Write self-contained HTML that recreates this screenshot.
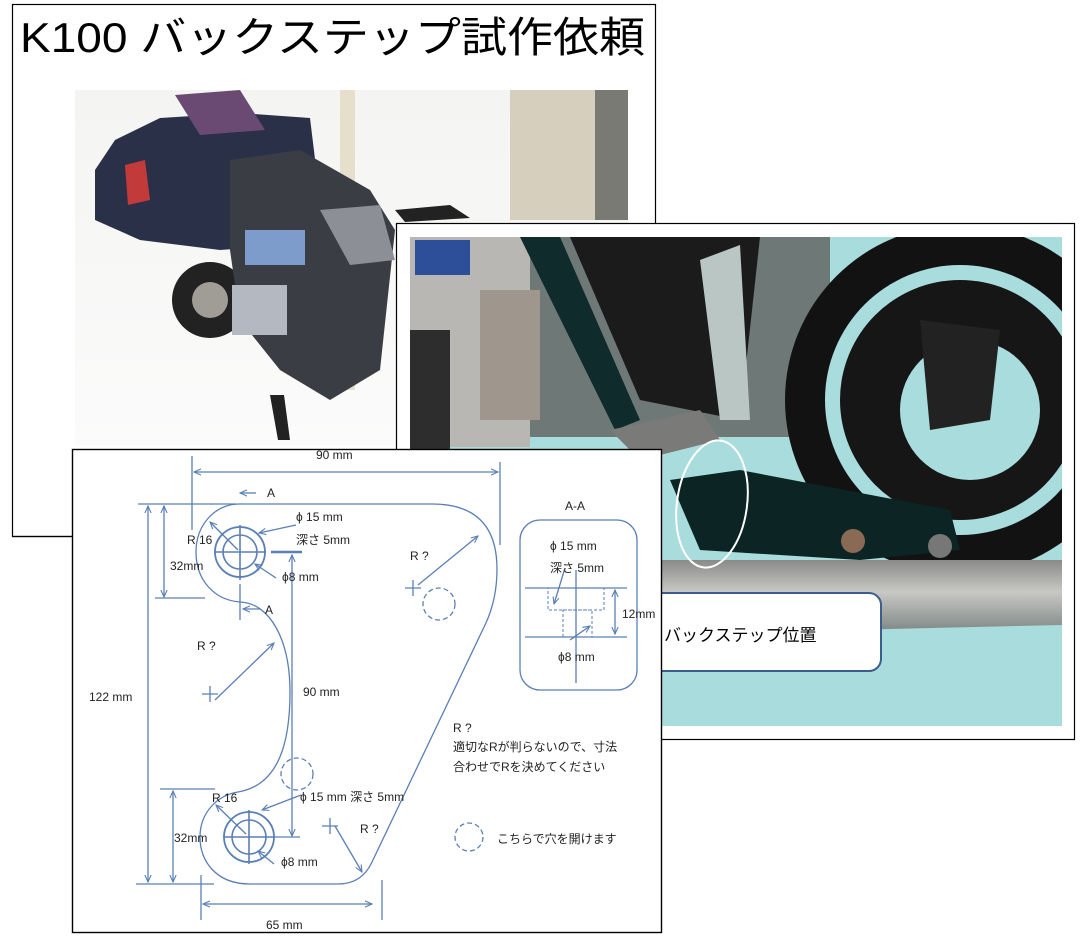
<!DOCTYPE html>
<html><head><meta charset="utf-8"><style>
html,body{margin:0;padding:0;background:#fff;width:1090px;height:944px;overflow:hidden}
svg{display:block}
text{font-family:"Liberation Sans","Noto Sans CJK JP",sans-serif;fill:#222}
</style></head><body>
<svg width="1090" height="944" viewBox="0 0 1090 944" xmlns="http://www.w3.org/2000/svg">
<defs>
<linearGradient id="g1" x1="0" y1="0" x2="0" y2="1"><stop offset="0" stop-color="#f4f4f2"/><stop offset="1" stop-color="#fbfbfb"/></linearGradient>
<linearGradient id="ex" x1="0" y1="0" x2="0" y2="1"><stop offset="0" stop-color="#8a8a88"/><stop offset="0.4" stop-color="#c8c8c4"/><stop offset="1" stop-color="#6f7a78"/></linearGradient>
<clipPath id="c1"><rect x="75" y="90" width="553" height="355"/></clipPath>
<clipPath id="c2"><rect x="410" y="237" width="652" height="489"/></clipPath>
<marker id="ar" viewBox="0 0 10 10" refX="9" refY="5" markerWidth="6" markerHeight="6" orient="auto-start-reverse"><path d="M0,1 L9,5 L0,9" fill="none" stroke="#5a7fb5" stroke-width="1.4"/></marker>
</defs>

<!-- Slide 1 -->
<rect x="12.5" y="4.5" width="643" height="532" fill="#fff" stroke="#000" stroke-width="1.2"/>
<text x="20" y="52" font-size="42" textLength="625" lengthAdjust="spacingAndGlyphs" style="fill:#000">K100 バックステップ試作依頼</text>
<g clip-path="url(#c1)">
<rect x="75" y="90" width="553" height="355" fill="url(#g1)"/>
<rect x="340" y="90" width="15" height="300" fill="#e6dfcc"/>
<rect x="510" y="90" width="85" height="130" fill="#d7cfbd"/>
<rect x="595" y="90" width="33" height="130" fill="#7a7a74"/>
<path d="M95,170 L115,140 L160,118 L240,113 L310,118 L320,200 L290,245 L220,250 L140,240 L95,220 Z" fill="#2a3048"/>
<path d="M125,165 L145,160 L150,200 L128,205 Z" fill="#c23a3a"/>
<path d="M175,95 L240,90 L265,130 L200,135 Z" fill="#6a4a72"/>
<circle cx="210" cy="300" r="38" fill="#222"/>
<circle cx="210" cy="300" r="18" fill="#a09c96"/>
<path d="M230,160 L300,150 L370,190 L395,230 L380,370 L330,400 L280,370 L240,320 L230,250 Z" fill="#3a3d44"/>
<rect x="245" y="230" width="60" height="35" fill="#7d9ccc"/>
<rect x="232" y="285" width="55" height="50" fill="#b4b8c0"/>
<path d="M320,210 L380,205 L395,260 L350,265 Z" fill="#8c8f96"/>
<path d="M270,395 L278,440 L290,440 L284,395 Z" fill="#222"/>
<path d="M395,210 L450,205 L470,218 L405,222 Z" fill="#222"/>
</g>

<!-- Slide 2 -->
<rect x="396.5" y="223.5" width="678" height="516" fill="#fff" stroke="#000" stroke-width="1.2"/>
<g clip-path="url(#c2)">
<rect x="410" y="237" width="652" height="489" fill="#a9dcdc"/>
<rect x="410" y="237" width="420" height="200" fill="#6e7876"/>
<rect x="410" y="237" width="120" height="210" fill="#b9b7b3"/>
<rect x="415" y="240" width="55" height="35" fill="#2d4f9a"/>
<rect x="480" y="290" width="60" height="130" fill="#9f978e"/>
<rect x="410" y="330" width="40" height="120" fill="#2d2d2d"/>
<path d="M520,237 L560,237 L640,420 L615,430 Z" fill="#0f2b2b"/>
<path d="M570,237 L760,237 L740,420 L640,400 Z" fill="#1b1b1b"/>
<path d="M700,260 L740,245 L750,420 L720,420 Z" fill="#b9c6c4"/>
<circle cx="960" cy="400" r="175" fill="#121212"/>
<circle cx="960" cy="400" r="135" fill="#a9dcdc"/>
<circle cx="960" cy="400" r="120" fill="#161616"/>
<circle cx="970" cy="410" r="70" fill="#a9dcdc"/>
<path d="M920,320 L1000,330 L990,420 L930,430 Z" fill="#222"/>
<path d="M410,560 L1062,560 L1062,625 L410,640 Z" fill="url(#ex)"/>
<path d="M670,480 L740,470 L950,510 L960,550 L860,560 L700,550 Z" fill="#0c2424"/>
<circle cx="853" cy="541" r="12" fill="#8a6a55"/>
<circle cx="940" cy="546" r="12" fill="#777"/>
<path d="M610,430 L700,410 L720,440 L640,460 Z" fill="#7a7a78"/>
<ellipse cx="712" cy="504" rx="35" ry="64" fill="none" stroke="#fff" stroke-width="2" transform="rotate(8 712 504)"/>
</g>
<rect x="600" y="593" width="281" height="78" rx="12" fill="#fff" stroke="#3b5d8f" stroke-width="2"/>
<text x="664" y="641" font-size="17" style="fill:#000">バックステップ位置</text>

<!-- Slide 3 -->
<rect x="72.5" y="449.5" width="589" height="483" fill="#fff" stroke="#000" stroke-width="1.4"/>
<g fill="none" stroke="#5a7fb5" stroke-width="1.3">
<path d="M239,504 L432,504 Q497,504 497,569 Q497,600 485,625 L372,862 Q362,884 338,884 L250,884 C215,884 200,860 200,837 C200,812 218,795 238,792 C280,785 290,740 290,692 C290,640 270,603 240,602 C214,600 196,580 196,552 C196,525 215,504 239,504 Z"/>
<circle cx="240" cy="552" r="25" stroke-width="1.8"/><circle cx="240" cy="552" r="17" stroke-width="1.6"/>
<line x1="214" y1="552" x2="266" y2="552" stroke-width="1.6"/><line x1="240" y1="525" x2="240" y2="580" stroke-width="1.6"/>
<circle cx="249" cy="837" r="25" stroke-width="1.8"/><circle cx="249" cy="837" r="17" stroke-width="1.6"/>
<line x1="223" y1="837" x2="275" y2="837" stroke-width="1.6"/><line x1="249" y1="810" x2="249" y2="864" stroke-width="1.6"/>
<circle cx="439" cy="604" r="16" stroke-dasharray="5,3"/>
<circle cx="297" cy="774" r="16" stroke-dasharray="5,3"/>
<circle cx="469" cy="837" r="14" stroke-dasharray="5,3"/>
<line x1="192" y1="456" x2="192" y2="530"/>
<line x1="500" y1="462" x2="500" y2="545"/>
<line x1="194" y1="472" x2="498" y2="472" marker-start="url(#ar)" marker-end="url(#ar)"/>
<line x1="138" y1="504" x2="236" y2="504"/>
<line x1="148" y1="506" x2="148" y2="882" marker-start="url(#ar)" marker-end="url(#ar)"/>
<line x1="164" y1="506" x2="164" y2="597" marker-start="url(#ar)" marker-end="url(#ar)"/>
<line x1="155" y1="598" x2="205" y2="598"/>
<line x1="160" y1="789" x2="215" y2="789"/>
<line x1="173" y1="791" x2="173" y2="882" marker-start="url(#ar)" marker-end="url(#ar)"/>
<line x1="136" y1="884" x2="214" y2="884"/>
<line x1="201" y1="875" x2="201" y2="920"/>
<line x1="382" y1="880" x2="382" y2="920"/>
<line x1="203" y1="904" x2="372" y2="904" marker-start="url(#ar)" marker-end="url(#ar)"/>
<line x1="271" y1="552" x2="302" y2="552" stroke-width="2.5"/>
<line x1="292" y1="555" x2="292" y2="836" marker-start="url(#ar)" marker-end="url(#ar)"/>
<line x1="275" y1="837" x2="300" y2="837"/>
<line x1="240" y1="584" x2="240" y2="620"/>
<line x1="256" y1="493" x2="240" y2="493" marker-end="url(#ar)"/>
<line x1="260" y1="609" x2="243" y2="609" marker-end="url(#ar)"/>
<line x1="296" y1="525" x2="259" y2="533" marker-end="url(#ar)"/>
<line x1="276" y1="578" x2="255" y2="564" marker-end="url(#ar)"/>
<line x1="210" y1="522" x2="238" y2="550" marker-start="url(#ar)"/>
<line x1="215" y1="700" x2="274" y2="643" marker-end="url(#ar)"/>
<line x1="418" y1="585" x2="478" y2="536" marker-end="url(#ar)"/>
<line x1="301" y1="795" x2="262" y2="810" marker-end="url(#ar)"/>
<line x1="274" y1="864" x2="258" y2="851" marker-end="url(#ar)"/>
<line x1="216" y1="805" x2="246" y2="834" marker-start="url(#ar)"/>
<line x1="335" y1="826" x2="362" y2="872" marker-end="url(#ar)"/>
<path d="M405,588 h16 M413,580 v16 M202,694 h16 M210,686 v16 M322,826 h16 M330,818 v16"/>
<rect x="520" y="520" width="117" height="170" rx="20"/>
<line x1="576" y1="570" x2="576" y2="683"/>
<line x1="525" y1="588" x2="627" y2="588"/>
<line x1="525" y1="637" x2="627" y2="637"/>
<rect x="548" y="588" width="56" height="22" stroke-dasharray="3,2" stroke-width="1"/>
<rect x="563" y="610" width="29" height="27" stroke-dasharray="3,2" stroke-width="1"/>
<line x1="615" y1="590" x2="615" y2="634" marker-start="url(#ar)" marker-end="url(#ar)"/>
<line x1="565" y1="568" x2="554" y2="604" marker-end="url(#ar)"/>
<line x1="570" y1="640" x2="590" y2="626" marker-end="url(#ar)"/>
</g>
<g font-size="12">
<text x="316" y="459">90 mm</text>
<text x="267" y="497">A</text>
<text x="265" y="614">A</text>
<text x="296" y="521">ϕ 15 mm</text>
<text x="296" y="544">深さ 5mm</text>
<text x="187" y="544">R 16</text>
<text x="170" y="570">32mm</text>
<text x="282" y="581">ϕ8 mm</text>
<text x="410" y="560">R ?</text>
<text x="197" y="650">R ?</text>
<text x="89" y="701">122 mm</text>
<text x="303" y="696">90 mm</text>
<text x="453" y="732">R ?</text>
<text x="453" y="751">適切なRが判らないので、寸法</text>
<text x="453" y="771">合わせでRを決めてください</text>
<text x="300" y="801">ϕ 15 mm 深さ 5mm</text>
<text x="212" y="802">R 16</text>
<text x="174" y="842">32mm</text>
<text x="281" y="866">ϕ8 mm</text>
<text x="360" y="833">R ?</text>
<text x="497" y="843">こちらで穴を開けます</text>
<text x="266" y="929">65 mm</text>
<text x="565" y="510">A-A</text>
<text x="550" y="550">ϕ 15 mm</text>
<text x="550" y="572">深さ 5mm</text>
<text x="622" y="618">12mm</text>
<text x="558" y="661">ϕ8 mm</text>
</g>
<line x1="12" y1="536.5" x2="72" y2="536.5" stroke="#000" stroke-width="1.2"/>
</svg>
</body></html>
